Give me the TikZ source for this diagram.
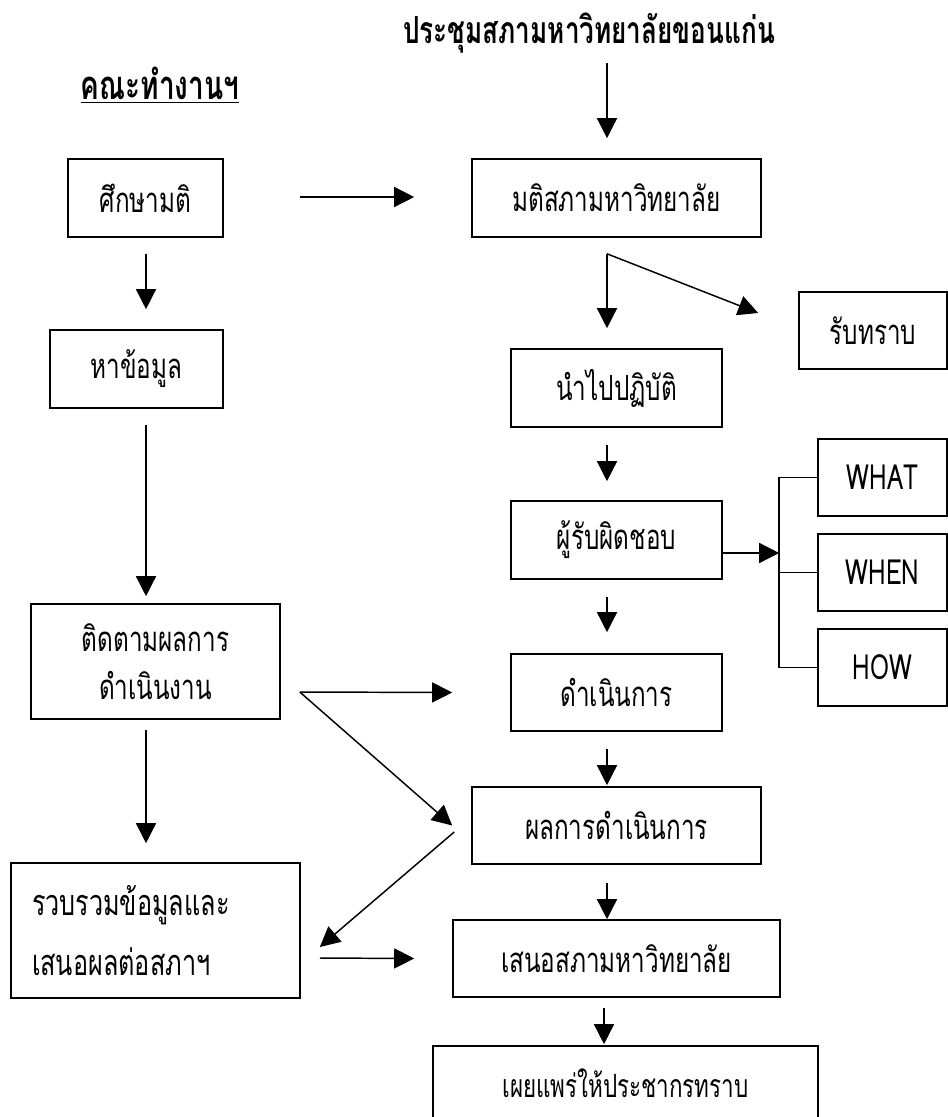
\documentclass[tikz,border=0pt]{standalone}
\usepackage{fontspec}
\setmainfont[Script=Thai,FakeStretch=0.7]{Loma}
\usetikzlibrary{arrows.meta,calc}
\tikzset{
  bx/.style 2 args={draw, line width=1.2pt, minimum width=#1*0.75pt, minimum height=#2*0.75pt, inner sep=0pt, align=center},
  arr/.style={line width=1.1pt, -{Triangle[length=15pt,width=15pt]}},
  ln/.style={line width=1.2pt},
  txt/.style={font=\fontsize{26}{30}\selectfont},
}
\begin{document}
\begin{tikzpicture}[x=0.75pt,y=-0.75pt]
\useasboundingbox (0,0) rectangle (948,1117);
\clip (0,0) rectangle (948,1117);
\begin{scope}[txt]
\node[font=\fontsize{28}{32}\selectfont\bfseries] (title) at (589,33) {ประชุมสภามหาวิทยาลัยขอนแก่น};
\node[font=\fontsize{30}{34}\selectfont\bfseries] (team) at (160,85) {\underline{คณะทำงานฯ}};
\node[bx={155}{78}] (s1) at (145.5,198) {ศึกษามติ};
\node[bx={289}{78}] (s2) at (616.5,198) {มติสภามหาวิทยาลัย};
\node[bx={173}{78}] (s3) at (136.5,369) {หาข้อมูล};
\node[bx={148}{77}] (s4) at (873,330.5) {รับทราบ};
\node[bx={211}{78}] (s5) at (616.5,388) {นำไปปฏิบัติ};
\node[bx={211}{78}] (s6) at (616.5,540) {ผู้รับผิดชอบ};
\node[bx={129}{77}] (what) at (882.5,477.5) {WHAT};
\node[bx={129}{77}] (when) at (882.5,572.5) {WHEN};
\node[bx={129}{77}] (how) at (882.5,667.5) {HOW};
\node[bx={249}{115}, font=\fontsize{26}{36}\selectfont] (s10) at (155.5,661.5) {ติดตามผลการ\\ดำเนินงาน};
\node[bx={211}{77}] (s11) at (616.5,692.5) {ดำเนินการ};
\node[bx={289}{77}] (s12) at (616.5,825.5) {ผลการดำเนินการ};
\node[bx={289}{135}, align=left, text width=247*0.75pt, font=\fontsize{27}{45}\selectfont] (s13) at (155.5,930.5) {รวบรวมข้อมูลและ\\เสนอผลต่อสภาฯ};
\node[bx={327}{77}] (s14) at (616.5,958.5) {เสนอสภามหาวิทยาลัย};
\node[bx={385}{74}, font=\fontsize{24}{28}\selectfont] (s15) at (625.5,1083) {เผยแพร่ให้ประชากรทราบ};
\end{scope}
% arrows
\draw[arr] ([shift={(18,30)}]title.center) -- ([shift={(-9.5,-20)}]s2.north);
\draw[arr] ([shift={(76,-1)}]s1.east) -- ([shift={(-57,-1)}]s2.west);
\draw[arr] ([shift={(0.5,16)}]s1.south) -- ([shift={(9.5,-20)}]s3.north);
\draw[arr] ([shift={(-9.5,16)}]s2.south) -- ([shift={(-9.5,-20)}]s5.north);
\draw[arr] ([shift={(-9.5,16)}]s2.south) -- ([shift={(-40,-17.5)}]s4.west);
\draw[arr] ([shift={(-9.5,17)}]s5.south) -- ([shift={(-9.5,-19)}]s6.north);
\draw[arr] ([shift={(0,13)}]s6.east) -- ([shift={(-38,-19.5)}]when.west);
\draw[ln] (what.west) -- ++(-38,0) |- (how.west);
\draw[ln] (when.west) -- ++(-38,0);
\draw[arr] ([shift={(-9.5,17)}]s6.south) -- ([shift={(-9.5,-21)}]s11.north);
\draw[arr] ([shift={(19,30.5)}]s10.east) -- ([shift={(-58,0)}]s11.west);
\draw[arr] ([shift={(19,30.5)}]s10.east) -- ([shift={(-19,0)}]s12.west);
\draw[arr] ([shift={(9.5,16)}]s3.south) -- ([shift={(-9.5,-7)}]s10.north);
\draw[arr] ([shift={(-9.5,17)}]s11.south) -- ([shift={(-9.5,-1)}]s12.north);
\draw[arr] ([shift={(-9.5,10)}]s10.south) -- ([shift={(-9.5,-19)}]s13.north);
\draw[arr] ([shift={(-17,6.5)}]s12.west) -- ([shift={(19,16.5)}]s13.east);
\draw[arr] ([shift={(19,27.5)}]s13.east) -- ([shift={(-38,0)}]s14.west);
\draw[arr] ([shift={(-9.5,18)}]s12.south) -- ([shift={(-9.5,0)}]s14.north);
\draw[arr] ([shift={(-12.5,10)}]s14.south) -- ([shift={(-21.5,-1)}]s15.north);
\end{tikzpicture}
\end{document}
